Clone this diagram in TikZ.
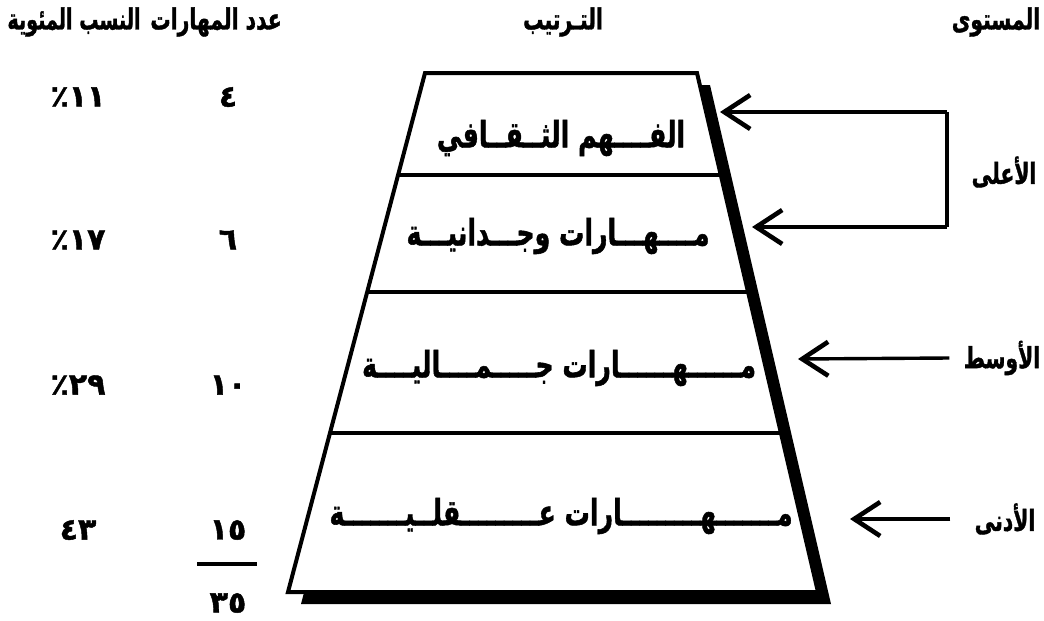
\documentclass[tikz,border=0pt]{standalone}
\usepackage{fontspec}
\usetikzlibrary{arrows.meta,calc}
\TeXXeTstate=1
\newfontfamily\arabicfont[Script=Arabic, BoldFeatures={FakeBold=1.5}]{DejaVu Sans}
\newfontfamily\numfont[BoldFeatures={FakeBold=1.5}]{DejaVu Sans}

\begin{document}
\begin{tikzpicture}[
			x=0.5pt, y=-0.5pt,
			every node/.style={inner sep=0pt},
			heading/.style={font=\arabicfont\bfseries\fontsize{14.5}{16}\selectfont},
			stage/.style={font=\arabicfont\bfseries\fontsize{18}{20}\selectfont},
			count/.style={font=\numfont\bfseries\fontsize{15}{17}\selectfont},
			pointer/.style={line width=1.7pt, -{Straight Barb[length=13pt,width=17pt,line width=2.3pt]}},
			divider/.style={line width=1.6pt}
			]
			\useasboundingbox (0,0) rectangle (1044,621);
			
			% corners of the pyramid
			\coordinate (tl) at (425,73);
			\coordinate (tr) at (697,73);
			\coordinate (br) at (818,592);
			\coordinate (bl) at (288,592);
			
			% shadow first, then the white body over it
			\fill[black] ([shift={(13,12)}]tl) -- ([shift={(13,12)}]tr) -- ([shift={(13,12)}]br) -- ([shift={(13,12)}]bl) -- cycle;
			\draw[line width=2pt, fill=white] (tl) -- (tr) -- (br) -- (bl) -- cycle;
			\foreach \t in {0.1965,0.422,0.6936}
				\draw[divider] ($(tl)!\t!(bl)$) -- ($(tr)!\t!(br)$);
			
			% headings
			\node[heading] (level) at (996,22) {\scalebox{0.7}[1]{\beginR المستوى\endR}};
			\node[heading] (order) at (563,22) {\scalebox{0.7}[1]{\beginR التـرتيب\endR}};
			\node[heading] (skills) at (216,22) {\scalebox{0.7}[1]{\beginR عدد المهارات\endR}};
			\node[heading] (ratio) at (74,22) {\scalebox{0.66}[1]{\beginR النسب المئوية\endR}};
			
			% stages of the pyramid
			\node[stage] (s1) at (561,138) {\scalebox{0.7}[1]{\beginR الفــــهم الثــقــافي\endR}};
			\node[stage] (s2) at (558,236) {\scalebox{0.7}[1]{\beginR مــــهـــارات وجـــدانيـــة\endR}};
			\node[stage] (s3) at (559,368) {\scalebox{0.7}[1]{\beginR مــــــهــــــارات جـــــمــــاليــــة\endR}};
			\node[stage] (s4) at (561,516) {\scalebox{0.7}[1]{\beginR مـــــــهـــــــــارات عـــــــــقلــيـــــــة\endR}};
			
			% number of skills
			\node[count] (n1) at (228,97) {٤};
			\node[count] (n2) at (228,240) {٦};
			\node[count] (n3) at (228,385) {١٠};
			\node[count] (n4) at (228,530) {١٥};
			\node[count] (sum) at (228,603) {٣٥};
			\draw[line width=2.2pt] ($(n4.south)+(-31,24)$) -- ($(n4.south)+(29,24)$);
			
			% percentages
			\node[count] (p1) at (78,97) {٪١١};
			\node[count] (p2) at (78,240) {٪١٧};
			\node[count] (p3) at (78,385) {٪٢٩};
			\node[count] (p4) at (78,530) {٤٣};
			
			% levels on the right
			\node[heading] (high) at (1004,172) {\scalebox{0.7}[1]{\beginR الأعلى\endR}};
			\node[heading] (mid) at (1002,358) {\scalebox{0.7}[1]{\beginR الأوسط\endR}};
			\node[heading] (low) at (1005,519) {\scalebox{0.7}[1]{\beginR الأدنى\endR}};
			
			\coordinate (hightop) at (947,112);
			\coordinate (highbot) at (947,227);
			\draw[line width=1.7pt] (hightop) -- (highbot);
			\draw[pointer] (hightop) -- (720,112);
			\draw[pointer] (highbot) -- (752,227);
			\draw[pointer] (mid.west) ++(-14,0) -- (798,359);
			\draw[pointer] (low.west) ++(-24,0) -- (850,519);
		\end{tikzpicture}
\end{document}
